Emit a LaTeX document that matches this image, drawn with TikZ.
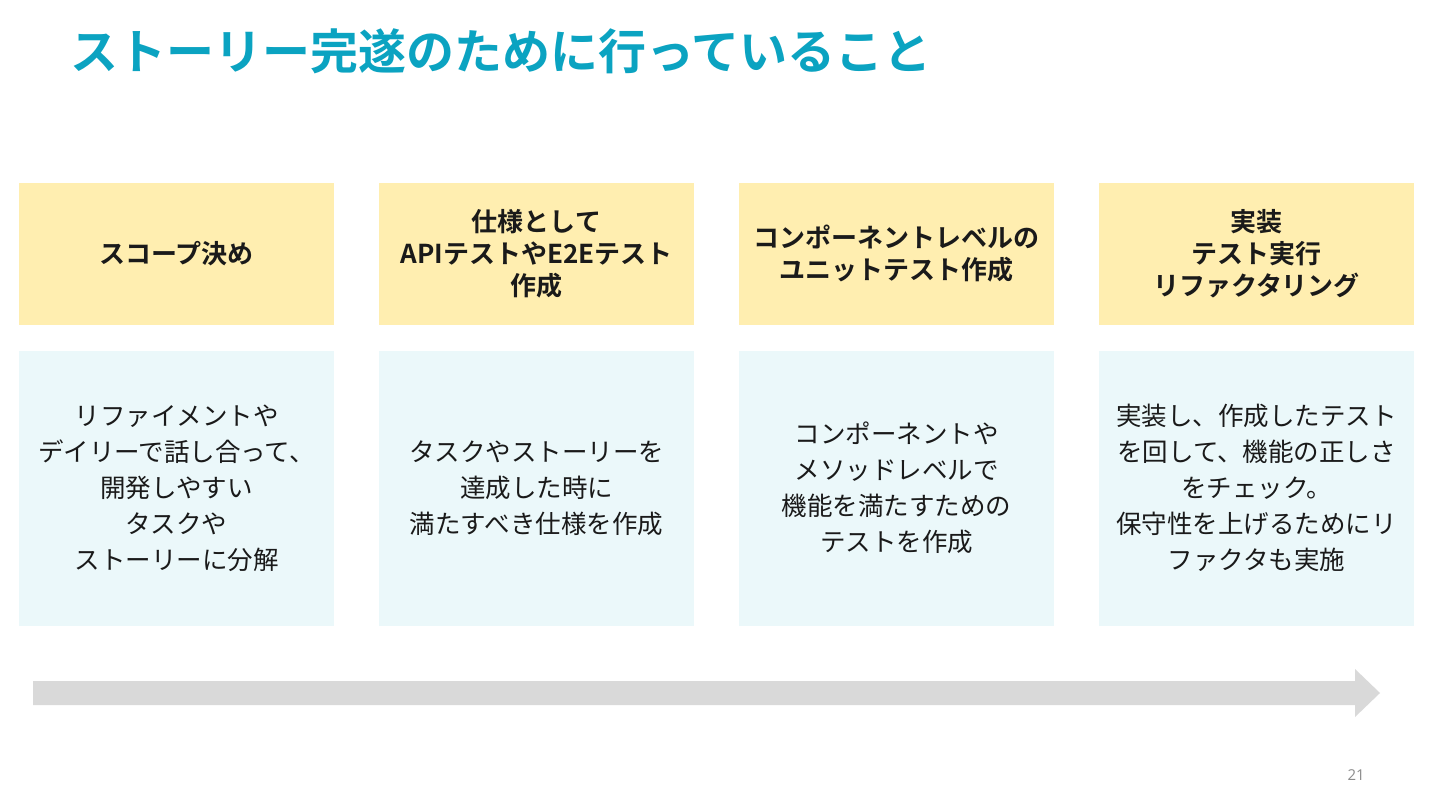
\documentclass[tikz,border=0pt]{standalone}
\usepackage{fontspec}
\setmainfont{Noto Sans CJK JP}[BoldFont={* Bold}]
\newfontfamily\numfont{Open Sans}
\definecolor{titlecol}{HTML}{0BA3C1}
\definecolor{headfill}{HTML}{FFEEB0}
\definecolor{bodyfill}{HTML}{EBF8FA}
\definecolor{arrowcol}{HTML}{D9D9D9}
\definecolor{textcol}{HTML}{1A1A1A}
\tikzset{
  headbox/.style={fill=headfill, draw=none, minimum width=315pt, minimum height=142pt, inner sep=0pt, align=center, text=textcol, font=\fontsize{26}{32}\selectfont\bfseries},
  bodybox/.style={fill=bodyfill, draw=none, minimum width=315pt, minimum height=275pt, inner sep=0pt, align=center, text=textcol, font=\fontsize{25.5}{36}\selectfont},
}
\begin{document}
\begin{tikzpicture}[x=1pt,y=-1pt]
\useasboundingbox[fill=white] (0,0) rectangle (1440,810);
\node[anchor=base west, text=titlecol, font=\fontsize{48}{56}\selectfont\bfseries, inner sep=0pt] (title) at (70,70) {ストーリー完遂のために行っていること};

\node[headbox] (h1) at (176.5,254) {スコープ決め};
\node[headbox] (h2) at (536.5,254) {仕様として\\APIテストやE2Eテスト\\作成};
\node[headbox] (h3) at (896.5,254) {コンポーネントレベルの\\ユニットテスト作成};
\node[headbox] (h4) at (1256.5,254) {実装\\テスト実行\\リファクタリング};

\node[bodybox] (b1) at (176.5,488) {リファイメントや\\デイリーで話し合って、\\開発しやすい\\タスクや\\ストーリーに分解};
\node[bodybox] (b2) at (536.5,488) {タスクやストーリーを\\達成した時に\\満たすべき仕様を作成};
\node[bodybox] (b3) at (896.5,488) {コンポーネントや\\メソッドレベルで\\機能を満たすための\\テストを作成};
\node[bodybox] (b4) at (1256.5,488) {実装し、作成したテスト\\を回して、機能の正しさ\\をチェック。\\保守性を上げるためにリ\\ファクタも実施};

\fill[arrowcol] (33,681) -- (1355,681) -- (1355,669) -- (1380,693) -- (1355,717) -- (1355,705) -- (33,705) -- cycle;

\node[anchor=base east, text=black!45, font=\numfont\fontsize{15}{18}\selectfont, inner sep=0pt] (page) at (1365,780) {21};
\end{tikzpicture}
\end{document}
